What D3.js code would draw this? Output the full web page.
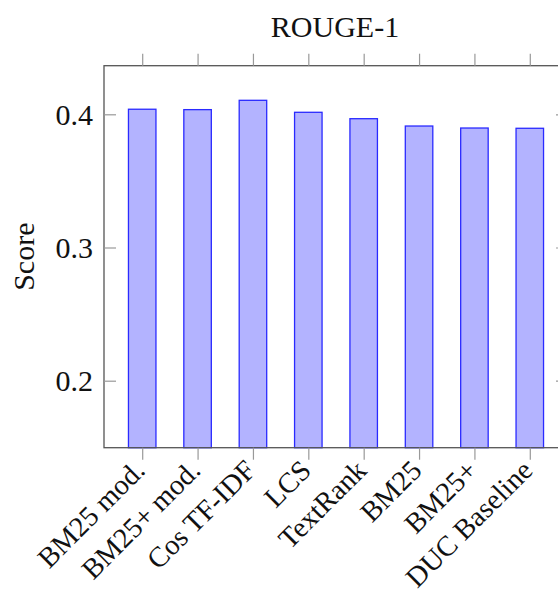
<!DOCTYPE html>
<html><head><meta charset="utf-8">
<script src="https://cdn.jsdelivr.net/npm/d3@7"></script>
<style>html,body{margin:0;padding:0;background:#fff;overflow:hidden}</style>
</head><body>
<script>
const categories = ["BM25 mod.", "BM25+ mod.", "Cos TF-IDF", "LCS", "TextRank", "BM25", "BM25+", "DUC Baseline"];
const scores = [0.4038, 0.4035, 0.4105, 0.4015, 0.3967, 0.3912, 0.3897, 0.3895];
const yTicks = [0.2, 0.3, 0.4];
const title = "ROUGE-1";
const yLabel = "Score";

const W = 558, H = 594;
const pLeft = 104, pRight = 568, pTop = 65.7, pBottom = 447.7;
const font = "'Liberation Serif', 'Times New Roman', serif";
const barW = 27.5;

const svg = d3.select("body").append("svg").attr("width", W).attr("height", H);

const y = d3.scaleLinear().domain([0.2, 0.4]).range([380.7, 114.3]);
const x = d3.scalePoint().domain(categories).range([pLeft, pRight]).padding(0.69);

// bars
svg.append("g").selectAll("rect").data(categories).join("rect")
  .attr("x", d => x(d) - barW / 2)
  .attr("width", barW)
  .attr("y", (d, i) => y(scores[i]))
  .attr("height", (d, i) => pBottom - y(scores[i]))
  .attr("fill", "#b3b3ff")
  .attr("stroke", "#2a2aff")
  .attr("stroke-width", 1.3);

const axisColor = "#555";
// frame
svg.append("rect").attr("x", pLeft).attr("y", pTop).attr("width", pRight - pLeft).attr("height", pBottom - pTop)
  .attr("fill", "none").attr("stroke", axisColor).attr("stroke-width", 1.3);

// y axis (ticks inward)
const yAxis = d3.axisLeft(y).tickValues(yTicks).tickSize(-12).tickPadding(12).tickFormat(d3.format(".1f"));
const gy = svg.append("g").attr("transform", `translate(${pLeft},0)`).call(yAxis);
gy.select(".domain").remove();
gy.selectAll(".tick line").attr("stroke", "#999").attr("stroke-width", 1.2);
gy.selectAll(".tick text").attr("font-family", font).attr("font-size", 30).attr("fill", "#111").attr("x", -11).attr("dy", "0.34em");

// right axis ticks (inward)
const gr = svg.append("g").attr("transform", `translate(${pRight},0)`).call(d3.axisRight(y).tickValues(yTicks).tickSize(-12).tickFormat(""));
gr.select(".domain").remove();
gr.selectAll(".tick line").attr("stroke", "#999").attr("stroke-width", 1.2);

// x axis bottom (ticks outward)
const gx = svg.append("g").attr("transform", `translate(0,${pBottom})`).call(d3.axisBottom(x).tickSize(12).tickPadding(6));
gx.select(".domain").remove();
gx.selectAll(".tick line").attr("stroke", "#999").attr("stroke-width", 1.2);
gx.selectAll(".tick text")
  .attr("font-family", font).attr("font-size", 28.5).attr("fill", "#111")
  .attr("text-anchor", "end")
  .attr("transform", "translate(-3,17.5) rotate(-45)")
  .attr("x", 0).attr("y", 0).attr("dy", "0.34em");

// x axis top ticks (outward)
const gt = svg.append("g").attr("transform", `translate(0,${pTop})`).call(d3.axisTop(x).tickSize(12).tickFormat(""));
gt.select(".domain").remove();
gt.selectAll(".tick line").attr("stroke", "#999").attr("stroke-width", 1.2);

// title
svg.append("text").attr("x", 335).attr("y", 37).attr("text-anchor", "middle")
  .attr("font-family", font).attr("font-size", 30).attr("fill", "#111").text(title);

// y label
svg.append("text").attr("transform", `translate(34,${(pTop + pBottom) / 2}) rotate(-90)`)
  .attr("text-anchor", "middle").attr("font-family", font).attr("font-size", 30).attr("fill", "#111").text(yLabel);
</script>
</body></html>
